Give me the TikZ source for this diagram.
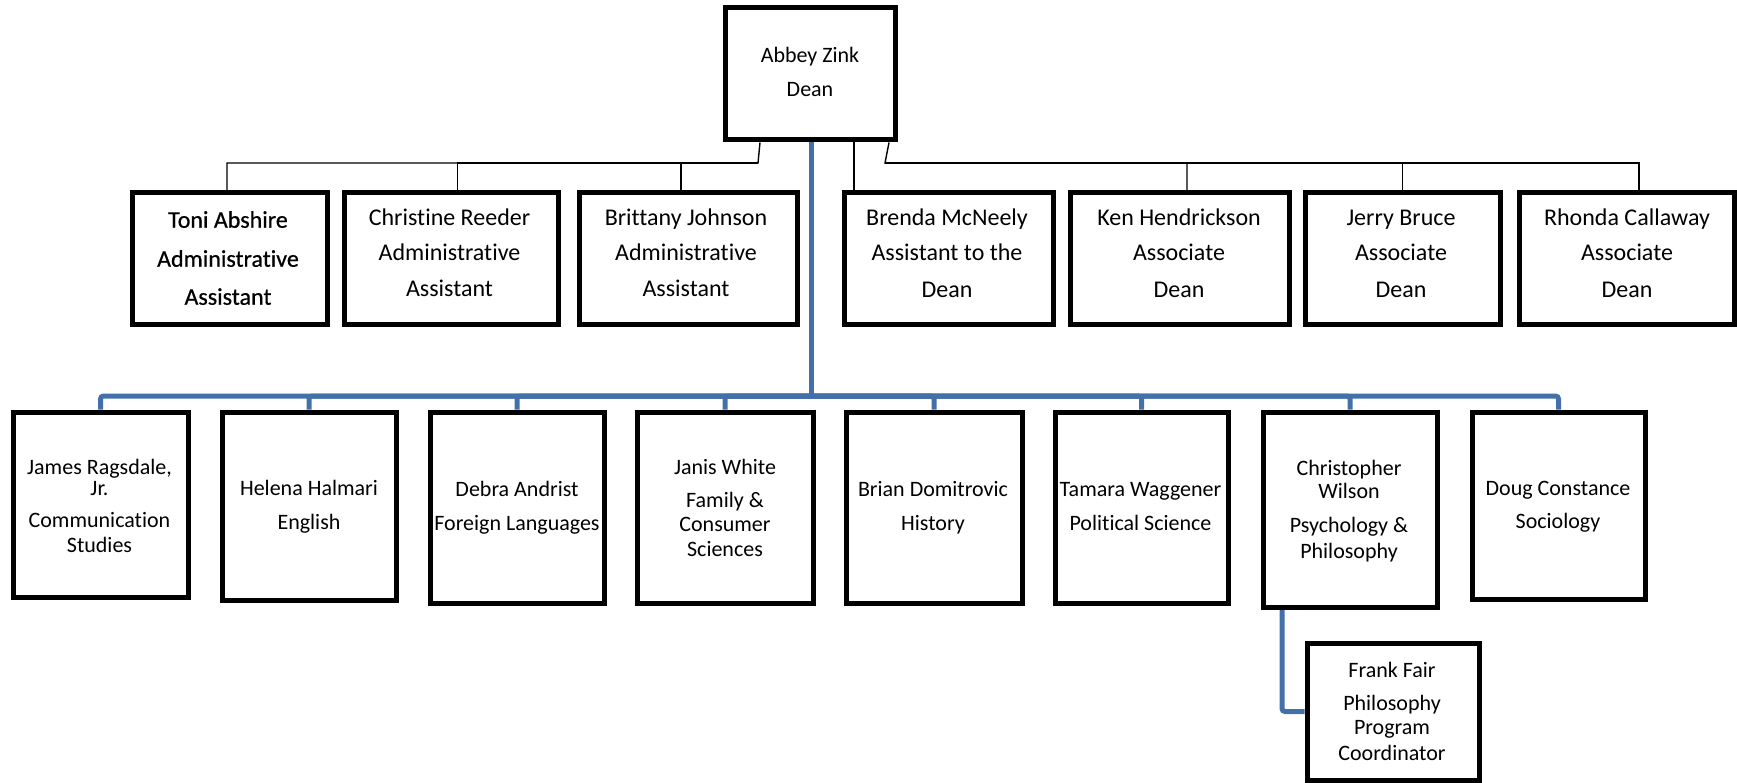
\documentclass[tikz,border=0pt]{standalone}
\usepackage{fontspec}
\setmainfont{Carlito}[Ligatures={NoCommon}]
\usetikzlibrary{backgrounds}
\definecolor{orgblue}{RGB}{68,112,170}
\begin{document}
\begin{tikzpicture}[x=1pt,y=-1pt,
  box/.style={draw=black, line width=5pt, fill=white, inner sep=0pt},
  thinline/.style={draw=black, line width=1.4pt},
  blueline/.style={draw=orgblue, line width=5pt, rounded corners=3pt},
  tbig/.style={font=\fontsize{24}{28}\selectfont, inner sep=0pt, text height=15.5pt, text depth=0pt},
  tsmall/.style={font=\fontsize{22}{26}\selectfont, inner sep=0pt, text height=14.2pt, text depth=0pt},
  tbold/.style={font=\fontsize{24}{28}\selectfont\addfontfeatures{FakeBold=0.6}, inner sep=0pt, text height=15.5pt, text depth=0pt}
]
\useasboundingbox (0,0) rectangle (1737,783);

% ---------- boxes ----------
\node[box, minimum width=170pt, minimum height=132pt] (dean) at (810,74) {};

\node[box, minimum width=195pt, minimum height=132pt] (toni)   at (229.5,259) {};
\node[box, minimum width=214pt, minimum height=132pt] (chris)  at (451,259) {};
\node[box, minimum width=218pt, minimum height=132pt] (britt)  at (688,259) {};
\node[box, minimum width=209pt, minimum height=132pt] (brenda) at (948.5,259) {};
\node[box, minimum width=219pt, minimum height=132pt] (ken)    at (1179.5,259) {};
\node[box, minimum width=195pt, minimum height=132pt] (jerry)  at (1402.5,259) {};
\node[box, minimum width=215pt, minimum height=132pt] (rhonda) at (1626.5,259) {};

\node[box, minimum width=175pt, minimum height=185pt] (james)  at (100.5,504.5) {};
\node[box, minimum width=174pt, minimum height=188pt] (helena) at (309,506) {};
\node[box, minimum width=174pt, minimum height=191pt] (debra)  at (517,507.5) {};
\node[box, minimum width=176pt, minimum height=191pt] (janis)  at (725,507.5) {};
\node[box, minimum width=176pt, minimum height=191pt] (brian)  at (934,507.5) {};
\node[box, minimum width=173pt, minimum height=191pt] (tamara) at (1141.5,507.5) {};
\node[box, minimum width=174pt, minimum height=195pt] (cwil)   at (1350,509.5) {};
\node[box, minimum width=173pt, minimum height=187pt] (doug)   at (1558.5,505.5) {};
\node[box, minimum width=172pt, minimum height=137pt] (frank)  at (1393,711.5) {};

% ---------- texts ----------
\node[tsmall] (dean-1) at (810,55) {Abbey Zink};
\node[tsmall] (dean-2) at (810,89) {Dean};

\node[tbold] (toni-1) at (228,220) {Toni Abshire};
\node[tbold] (toni-2) at (228,259) {Administrative};
\node[tbold] (toni-3) at (228,297) {Assistant};

\node[tbig] (chris-1) at (449.5,218) {Christine Reeder};
\node[tbig] (chris-2) at (449.5,253) {Administrative};
\node[tbig] (chris-3) at (449.5,289) {Assistant};

\node[tbig] (britt-1) at (686,218) {Brittany Johnson};
\node[tbig] (britt-2) at (686,253) {Administrative};
\node[tbig] (britt-3) at (686,289) {Assistant};

\node[tbig] (brenda-1) at (947,218) {Brenda McNeely};
\node[tbig] (brenda-2) at (947,253) {Assistant to the};
\node[tbig] (brenda-3) at (947,290) {Dean};

\node[tbig] (ken-1) at (1179,218) {Ken Hendrickson};
\node[tbig] (ken-2) at (1179,253) {Associate};
\node[tbig] (ken-3) at (1179,290) {Dean};

\node[tbig] (jerry-1) at (1401,218) {Jerry Bruce};
\node[tbig] (jerry-2) at (1401,253) {Associate};
\node[tbig] (jerry-3) at (1401,290) {Dean};

\node[tbig] (rhonda-1) at (1627,218) {Rhonda Callaway};
\node[tbig] (rhonda-2) at (1627,253) {Associate};
\node[tbig] (rhonda-3) at (1627,290) {Dean};

\node[tsmall] (james-1) at (99.5,467) {James Ragsdale,};
\node[tsmall] (james-2) at (99.5,488) {Jr.};
\node[tsmall] (james-3) at (99.5,520) {Communication};
\node[tsmall] (james-4) at (99.5,545) {Studies};

\node[tsmall] (helena-1) at (309,488) {Helena Halmari};
\node[tsmall] (helena-2) at (309,522) {English};

\node[tsmall] (debra-1) at (517,489) {Debra Andrist};
\node[tsmall] (debra-2) at (517,523) {Foreign Languages};

\node[tsmall] (janis-1) at (725,467) {Janis White};
\node[tsmall] (janis-2) at (725,500) {Family \&};
\node[tsmall] (janis-3) at (725,524) {Consumer};
\node[tsmall] (janis-4) at (725,549) {Sciences};

\node[tsmall] (brian-1) at (933,489) {Brian Domitrovic};
\node[tsmall] (brian-2) at (933,523) {History};

\node[tsmall] (tamara-1) at (1140.5,489) {Tamara Waggener};
\node[tsmall] (tamara-2) at (1140.5,523) {Political Science};

\node[tsmall] (cwil-1) at (1349,468) {Christopher};
\node[tsmall] (cwil-2) at (1349,491) {Wilson};
\node[tsmall] (cwil-3) at (1349,525) {Psychology \&};
\node[tsmall] (cwil-4) at (1349,551) {Philosophy};

\node[tsmall] (doug-1) at (1558,488) {Doug Constance};
\node[tsmall] (doug-2) at (1558,521) {Sociology};

\node[tsmall] (frank-1) at (1392,670) {Frank Fair};
\node[tsmall] (frank-2) at (1392,703) {Philosophy};
\node[tsmall] (frank-3) at (1392,727) {Program};
\node[tsmall] (frank-4) at (1392,753) {Coordinator};

% ---------- connectors ----------
\begin{scope}[on background layer]
  \coordinate (dl) at ([xshift=-50pt]dean.south);
  \coordinate (hl) at (758,163);
  \coordinate (dr) at ([xshift=79pt]dean.south);
  \coordinate (hr) at (885,163);
  \draw[thinline] (dl) -- (hl) -| ([xshift=-2.5pt]toni.north);
  \draw[thinline] (hl) -| ([xshift=6.5pt]chris.north);
  \draw[thinline] (hl) -| ([xshift=-7pt]britt.north);
  \draw[thinline] ([xshift=44pt]dean.south) -- ([xshift=44pt]dean.south |- brenda.north);
  \draw[thinline] (dr) -- (hr) -| ([xshift=7.5pt]ken.north);
  \draw[thinline] (hr) -| (jerry.north);
  \draw[thinline] (hr) -| ([xshift=12.5pt]rhonda.north);

  \coordinate (bd) at ([xshift=1pt]dean.south);
  \coordinate (bh) at (811,396);
  \draw[blueline] (bd) -- (bh);
  \draw[blueline] (bh) -| (james.north);
  \draw[blueline] (bh) -| (helena.north);
  \draw[blueline] (bh) -| (debra.north);
  \draw[blueline] (bh) -| (janis.north);
  \draw[blueline] (bh) -| (brian.north);
  \draw[blueline] (bh) -| (tamara.north);
  \draw[blueline] (bh) -| (cwil.north);
  \draw[blueline] (bh) -| (doug.north);
  \draw[blueline] ([xshift=-68pt]cwil.south) |- (frank.west);
\end{scope}
\end{tikzpicture}
\end{document}
